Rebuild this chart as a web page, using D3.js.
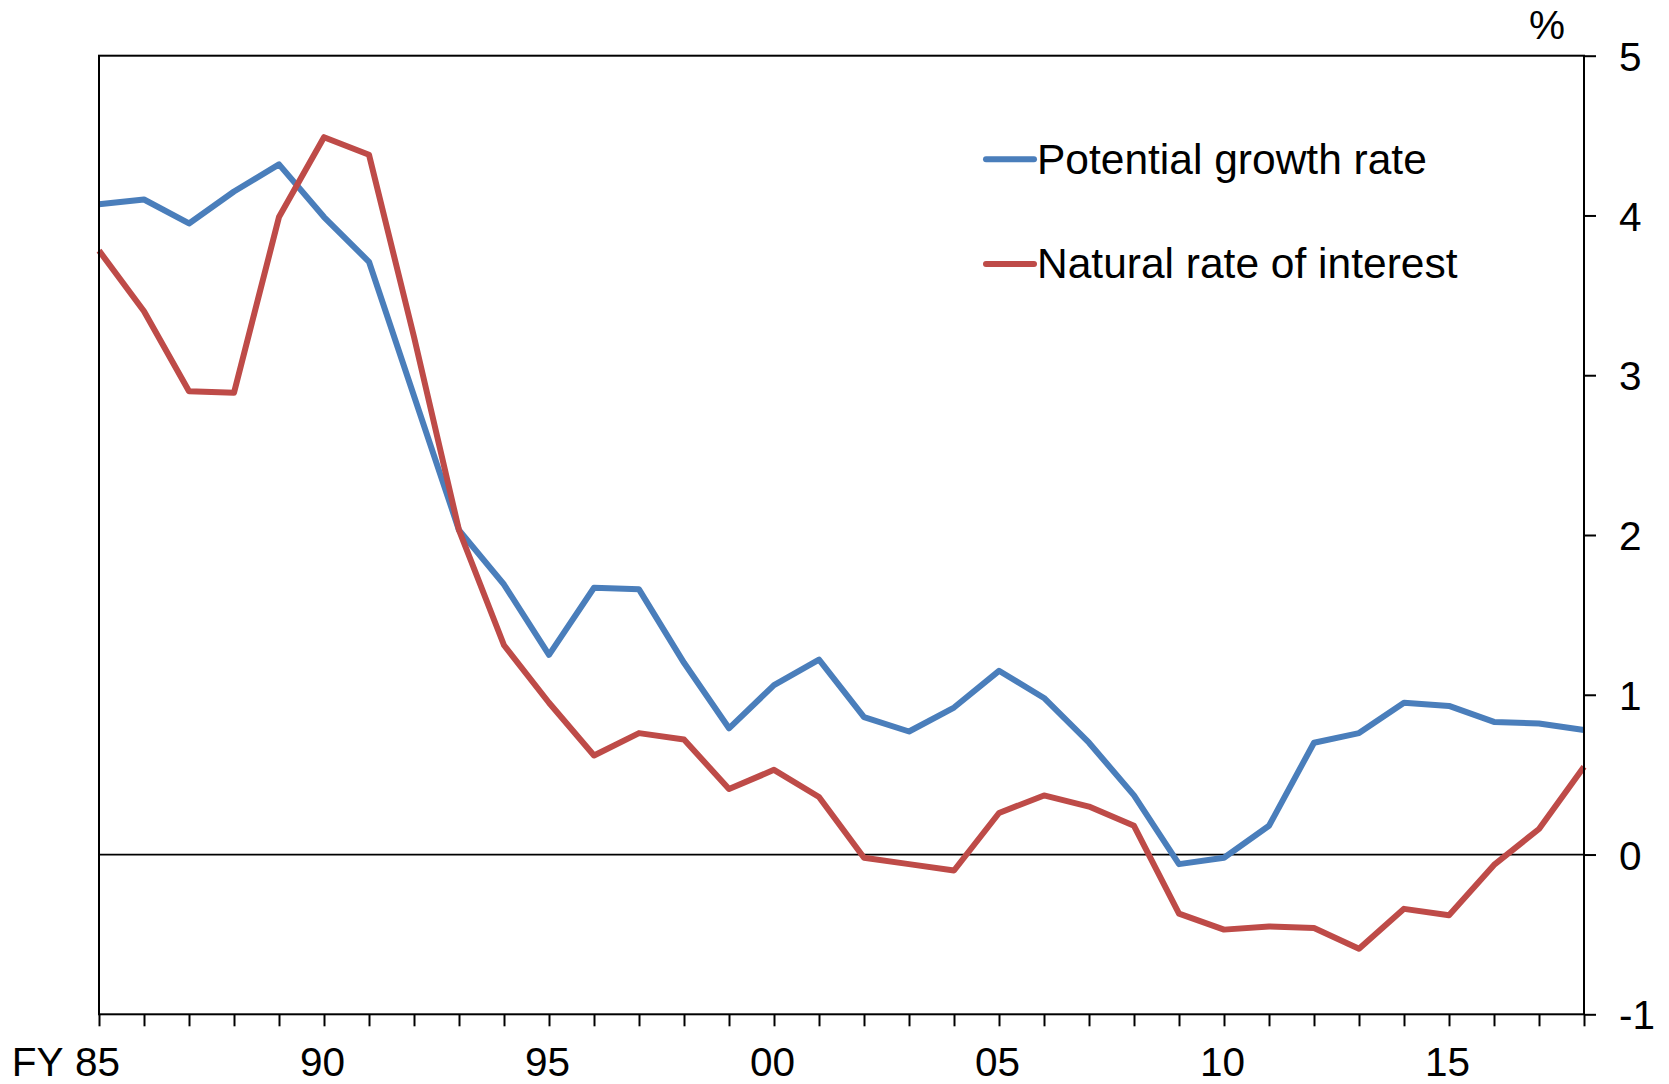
<!DOCTYPE html>
<html>
<head>
<meta charset="utf-8">
<script src="https://cdn.jsdelivr.net/npm/d3@7"></script>
<style>
  html, body { margin: 0; padding: 0; background: #ffffff; }
  svg { display: block; }
  text { font-family: "Liberation Sans", Arial, Helvetica, sans-serif; fill: #000; }
</style>
</head>
<body>
<svg id="chart" width="1669" height="1084"></svg>
<script>
// ---- data ----
const years = [1985,1986,1987,1988,1989,1990,1991,1992,1993,1994,1995,1996,1997,1998,1999,2000,2001,2002,2003,2004,2005,2006,2007,2008,2009,2010,2011,2012,2013,2014,2015,2016,2017,2018];
const potentialGrowth = [4.07,4.10,3.95,4.15,4.32,3.99,3.71,2.87,2.03,1.69,1.25,1.67,1.66,1.20,0.79,1.06,1.22,0.86,0.77,0.92,1.15,0.98,0.70,0.37,-0.06,-0.02,0.18,0.70,0.76,0.95,0.93,0.83,0.82,0.78];
const naturalRate = [3.78,3.40,2.90,2.89,3.99,4.49,4.38,3.24,2.03,1.31,0.95,0.62,0.76,0.72,0.41,0.53,0.36,-0.02,-0.06,-0.10,0.26,0.37,0.30,0.18,-0.37,-0.47,-0.45,-0.46,-0.59,-0.34,-0.38,-0.065,0.16,0.55];
const yTicks = [-1,0,1,2,3,4,5];
const xLabelYears = [1985,1990,1995,2000,2005,2010,2015];
const seriesNames = ["Potential growth rate", "Natural rate of interest"];
const seriesColors = ["#4A7EBB", "#BE4B48"];
const unitLabel = "%";
const fyLabel = "FY";

// ---- layout ----
const L = 99, R = 1584, T = 55.7, B = 1014.3;
const svg = d3.select("#chart");

const x = d3.scaleLinear().domain([1985, 2018]).range([L, R]);
const y = d3.scaleLinear().domain([-1, 5]).range([B, T]);

// zero line
svg.append("line")
  .attr("x1", L).attr("x2", R)
  .attr("y1", y(0)).attr("y2", y(0))
  .attr("stroke", "#000").attr("stroke-width", 1.8);

// series
const line = d3.line().x((d, i) => x(years[i])).y(d => y(d));
[potentialGrowth, naturalRate].forEach((vals, k) => {
  svg.append("path")
    .datum(vals)
    .attr("d", line)
    .attr("fill", "none")
    .attr("stroke", seriesColors[k])
    .attr("stroke-width", 6)
    .attr("stroke-linejoin", "round");
});

// frame
svg.append("rect")
  .attr("x", L).attr("y", T)
  .attr("width", R - L).attr("height", B - T)
  .attr("fill", "none").attr("stroke", "#000").attr("stroke-width", 2);

// right y axis
const yAxis = d3.axisRight(y)
  .tickValues(yTicks)
  .tickSize(12)
  .tickSizeOuter(0)
  .tickPadding(23)
  .tickFormat(d => String(d));
const gy = svg.append("g").attr("transform", `translate(${R},0)`).call(yAxis);
gy.select(".domain").remove();
gy.selectAll(".tick line").attr("stroke", "#000").attr("stroke-width", 2);
gy.selectAll(".tick text")
  .attr("dy", "0.36em")
  .style("font-size", "40.5px")
  .style("font-family", "'Liberation Sans', Arial, sans-serif")
  .attr("fill", "#000");

// bottom x axis
const xAxis = d3.axisBottom(x)
  .tickValues(years)
  .tickSize(12)
  .tickSizeOuter(0)
  .tickPadding(21)
  .tickFormat(d => xLabelYears.includes(d) ? String(d % 100).padStart(2, "0") : "");
const gx = svg.append("g").attr("transform", `translate(0,${B})`).call(xAxis);
gx.select(".domain").remove();
gx.selectAll(".tick line").attr("stroke", "#000").attr("stroke-width", 2);
gx.selectAll(".tick text")
  .attr("dx", "-2")
  .style("font-size", "40.5px")
  .style("font-family", "'Liberation Sans', Arial, sans-serif")
  .attr("fill", "#000");

// "FY" prefix
svg.append("text")
  .attr("x", x(1985) - 35.5)
  .attr("y", B + 12 + 21)
  .attr("dy", "0.71em")
  .attr("text-anchor", "end")
  .style("font-size", "40.5px")
  .text(fyLabel);

// unit label
svg.append("text")
  .attr("x", 1565).attr("y", 38.5)
  .attr("text-anchor", "end")
  .style("font-size", "40.5px")
  .text(unitLabel);

// legend
const legendY = [159.3, 264];
seriesNames.forEach((name, k) => {
  svg.append("line")
    .attr("x1", 986).attr("x2", 1034)
    .attr("y1", legendY[k]).attr("y2", legendY[k])
    .attr("stroke", seriesColors[k])
    .attr("stroke-width", 6)
    .attr("stroke-linecap", "round");
  svg.append("text")
    .attr("x", 1037)
    .attr("y", legendY[k] + 14.3)
    .style("font-size", "42.5px")
    .text(name);
});
</script>
</body>
</html>
